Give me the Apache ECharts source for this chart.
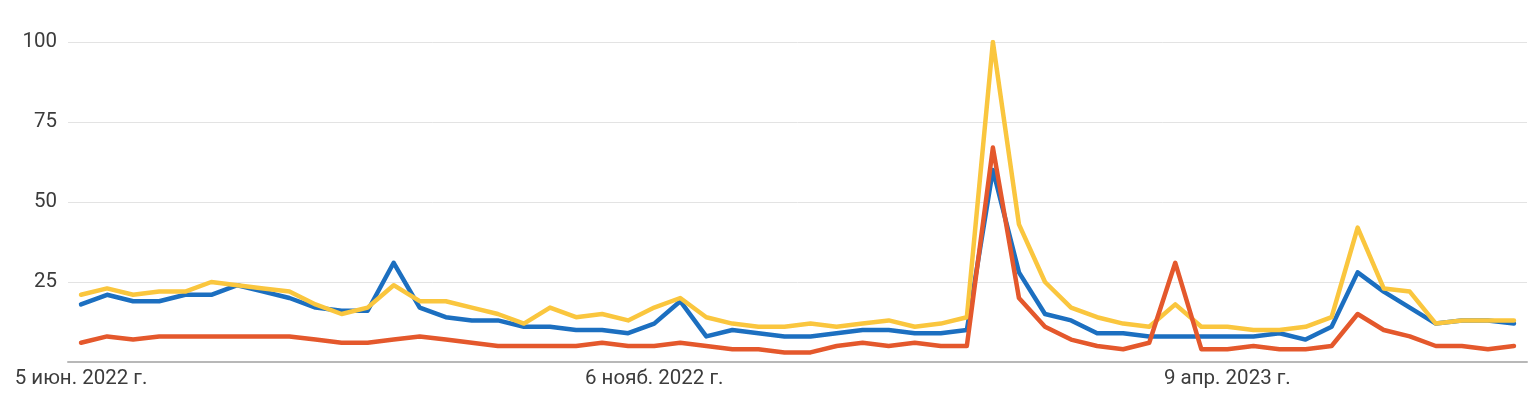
<!DOCTYPE html>
<html>
<head>
<meta charset="utf-8">
<script src="https://cdn.jsdelivr.net/npm/echarts@6/dist/echarts.min.js"></script>
<style>
html,body{margin:0;padding:0;background:#fff;}
#chart{width:1535px;height:399px;}
</style>
</head>
<body>
<div id="chart"></div>
<script>
// Weekly data starting 5 June 2022 (56 weeks)
const startDate = '2022-06-05';
const weekCount = 56;
const categories = [];
(function(){
  const d0 = new Date(startDate + 'T00:00:00Z');
  for (let i = 0; i < weekCount; i++) {
    const d = new Date(d0.getTime() + i * 7 * 86400000);
    categories.push(d.toISOString().slice(0, 10));
  }
})();

const tickIndices = [0, 22, 44];
const tickLabels = ['5 июн. 2022 г.', '6 нояб. 2022 г.', '9 апр. 2023 г.'];

const yTicks = [25, 50, 75, 100];

const blueSeries = [18,21,19,19,21,21,24,22,20,17,16,16,31,17,14,13,13,11,11,10,10,9,12,19,8,10,9,8,8,9,10,10,9,9,10,60,28,15,13,9,9,8,8,8,8,8,9,7,11,28,22,17,12,13,13,12];
const yellowSeries = [21,23,21,22,22,25,24,23,22,18,15,17,24,19,19,17,15,12,17,14,15,13,17,20,14,12,11,11,12,11,12,13,11,12,14,100,43,25,17,14,12,11,18,11,11,10,10,11,14,42,23,22,12,13,13,13];
const redSeries = [6,8,7,8,8,8,8,8,8,7,6,6,7,8,7,6,5,5,5,5,6,5,5,6,5,4,4,3,3,5,6,5,6,5,5,67,20,11,7,5,4,6,31,4,4,5,4,4,5,15,10,8,5,5,4,5];

const chart = echarts.init(document.getElementById('chart'), null, {renderer: 'canvas'});
const lineStyleBase = {width: 4.5, cap: 'round', join: 'round'};
chart.setOption({
  animation: false,
  backgroundColor: '#ffffff',
  grid: {left: 68, right: 8, top: 42, bottom: 37, containLabel: false},
  xAxis: {
    type: 'category',
    data: categories,
    boundaryGap: true,
    axisLine: {show: true, lineStyle: {color: '#b8b8b8', width: 2}},
    axisTick: {show: false},
    splitLine: {show: false},
    axisLabel: {
      interval: function (idx) { return tickIndices.indexOf(idx) >= 0; },
      formatter: function (val, idx) {
        const k = tickIndices.indexOf(idx);
        return k >= 0 ? tickLabels[k] : '';
      },
      color: '#3c3c3c',
      fontFamily: 'Roboto',
      fontSize: 20.5,
      margin: 6
    }
  },
  yAxis: {
    type: 'value',
    min: 0,
    max: 100,
    interval: 25,
    axisLine: {show: false},
    axisTick: {show: false},
    splitLine: {show: true, lineStyle: {color: '#e3e3e3', width: 1}},
    axisLabel: {
      formatter: function (v) { return yTicks.indexOf(v) >= 0 ? String(v) : ''; },
      color: '#3c3c3c',
      fontFamily: 'Roboto',
      fontSize: 20.5,
      margin: 11
    }
  },
  series: [
    {name: 'blue', type: 'line', data: blueSeries, symbol: 'none', z: 2,
     lineStyle: Object.assign({color: '#1c6fc0'}, lineStyleBase), itemStyle: {color: '#1c6fc0'}},
    {name: 'yellow', type: 'line', data: yellowSeries, symbol: 'none', z: 3,
     lineStyle: Object.assign({color: '#fac63e'}, lineStyleBase), itemStyle: {color: '#fac63e'}},
    {name: 'red', type: 'line', data: redSeries, symbol: 'none', z: 4,
     lineStyle: Object.assign({color: '#e4582c'}, lineStyleBase), itemStyle: {color: '#e4582c'}}
  ]
});
</script>
</body>
</html>
